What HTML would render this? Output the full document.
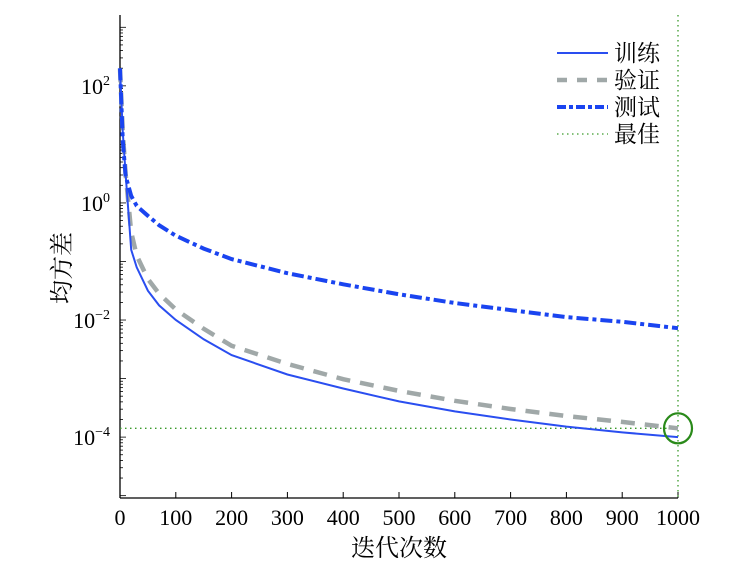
<!DOCTYPE html>
<html><head><meta charset="utf-8"><style>
body{margin:0;background:#fff;width:750px;height:564px;overflow:hidden}
svg text{font-family:"Liberation Serif","Noto Serif CJK SC",serif;fill:#000}
</style></head><body>
<svg id="chart" width="750" height="564" viewBox="0 0 750 564"></svg>
<script>
const iters = [0,5,10,20,30,50,70,100,150,200,300,400,500,600,700,800,900,1000];
const trainLog = [2.3,1.2,0.5,-0.8,-1.1,-1.5,-1.75,-2.0,-2.33,-2.6,-2.93,-3.17,-3.39,-3.56,-3.70,-3.82,-3.92,-4.0];
const valLog   = [2.3,1.2,0.5,-0.5,-0.9,-1.3,-1.55,-1.82,-2.15,-2.44,-2.75,-3.01,-3.21,-3.38,-3.52,-3.64,-3.74,-3.85];
const testLog  = [2.3,1.06,0.46,0.12,-0.05,-0.22,-0.38,-0.56,-0.78,-0.96,-1.2,-1.39,-1.56,-1.71,-1.83,-1.95,-2.03,-2.14];
const xTicks = [0,100,200,300,400,500,600,700,800,900,1000];
const yTicks = [2,0,-2,-4];
const bestIter = 1000, bestLog = -3.85;

const NS="http://www.w3.org/2000/svg", svg=document.getElementById('chart');
const X0=120,X1=678,Y0=498,Y1=15, LMIN=-5.04, LMAX=3.21;
const xs=v=>X0+(v-0)/(1000-0)*(X1-X0);
const ys=l=>Y0-(l-LMIN)/(LMAX-LMIN)*(Y0-Y1);
function el(t,a,p){const e=document.createElementNS(NS,t);for(const k in a)e.setAttribute(k,a[k]);(p||svg).appendChild(e);return e;}

// axes
let e=el('line',{x1:X0,y1:Y1,x2:X0,y2:Y0,stroke:'#000','stroke-width':1.3});

e=el('line',{x1:X0,y1:Y0,x2:X1,y2:Y0,stroke:'#000','stroke-width':1.3});

// x ticks
xTicks.forEach(v=>{
  el('line',{x1:xs(v),y1:Y0,x2:xs(v),y2:Y0-6,stroke:'#000'});
  const t=el('text',{x:xs(v),y:Y0+27,'text-anchor':'middle','font-size':22});
  t.textContent=v;
  
});
// y ticks major + minor
for(let d=-5;d<=3;d++){
  for(let m=1;m<10;m++){
    const l=d+Math.log10(m);
    if(l<LMIN||l>LMAX)continue;
    el('line',{x1:X0,y1:ys(l),x2:X0+(m===1?6:3),y2:ys(l),stroke:'#000','stroke-width':0.8});
  }
}
yTicks.forEach(l=>{
  const t=el('text',{x:X0-10,y:ys(l)+8,'text-anchor':'end','font-size':22});
  
  const a=el('tspan',{},t);a.textContent='10';
  const b=el('tspan',{dy:-9,'font-size':14},t);b.textContent=(l<0?'\u2212'+(-l):String(l));
});
// best lines
e=el('line',{x1:xs(bestIter),y1:Y1,x2:xs(bestIter),y2:Y0,stroke:'#3a9a2a','stroke-width':1.3,'stroke-dasharray':'1.5 3.5'});

e=el('line',{x1:X0,y1:ys(bestLog),x2:xs(bestIter),y2:ys(bestLog),stroke:'#3a9a2a','stroke-width':1.3,'stroke-dasharray':'1.5 3.5'});

// series
function series(arr,attrs,name){
  const d=iters.map((v,i)=>(i?'L':'M')+xs(v).toFixed(1)+','+ys(arr[i]).toFixed(1)).join('');
  const p=el('path',Object.assign({d:d,fill:'none'},attrs));
  
}
series(valLog,{stroke:'#a0a8a8','stroke-width':4.5,'stroke-dasharray':'14 10'},'validation-line');
series(trainLog,{stroke:'#2a4ef0','stroke-width':2},'train-line');
series(testLog,{stroke:'#1a44f0','stroke-width':4,'stroke-dasharray':'12 4 4 4'},'test-line');
// best marker
e=el('ellipse',{cx:xs(bestIter),cy:ys(bestLog),rx:14,ry:15,fill:'none',stroke:'#2a8a1a','stroke-width':2.2});

// legend
const leg=el('g',{});

const items=[['训练',{stroke:'#2a4ef0','stroke-width':2}],['验证',{stroke:'#a0a8a8','stroke-width':4.5,'stroke-dasharray':'10 10'}],['测试',{stroke:'#1a44f0','stroke-width':4,'stroke-dasharray':'9 3 4 3'}],['最佳',{stroke:'#3a9a2a','stroke-width':1.3,'stroke-dasharray':'1.5 3.5'}]];
items.forEach((it,i)=>{
  const y=53+i*27;
  const g=el('g',{},leg);
  
  el('line',Object.assign({x1:557,y1:y,x2:608,y2:y},it[1]),g);
  const t=el('text',{x:614,y:y+8,'font-size':23},g);t.textContent=it[0];
});
// axis titles
e=el('text',{x:399,y:556,'text-anchor':'middle','font-size':24});e.textContent='迭代次数';

e=el('text',{x:0,y:0,'text-anchor':'middle','font-size':24,transform:'translate(70,268) rotate(-90)'});e.textContent='均方差';

</script>
</body></html>
